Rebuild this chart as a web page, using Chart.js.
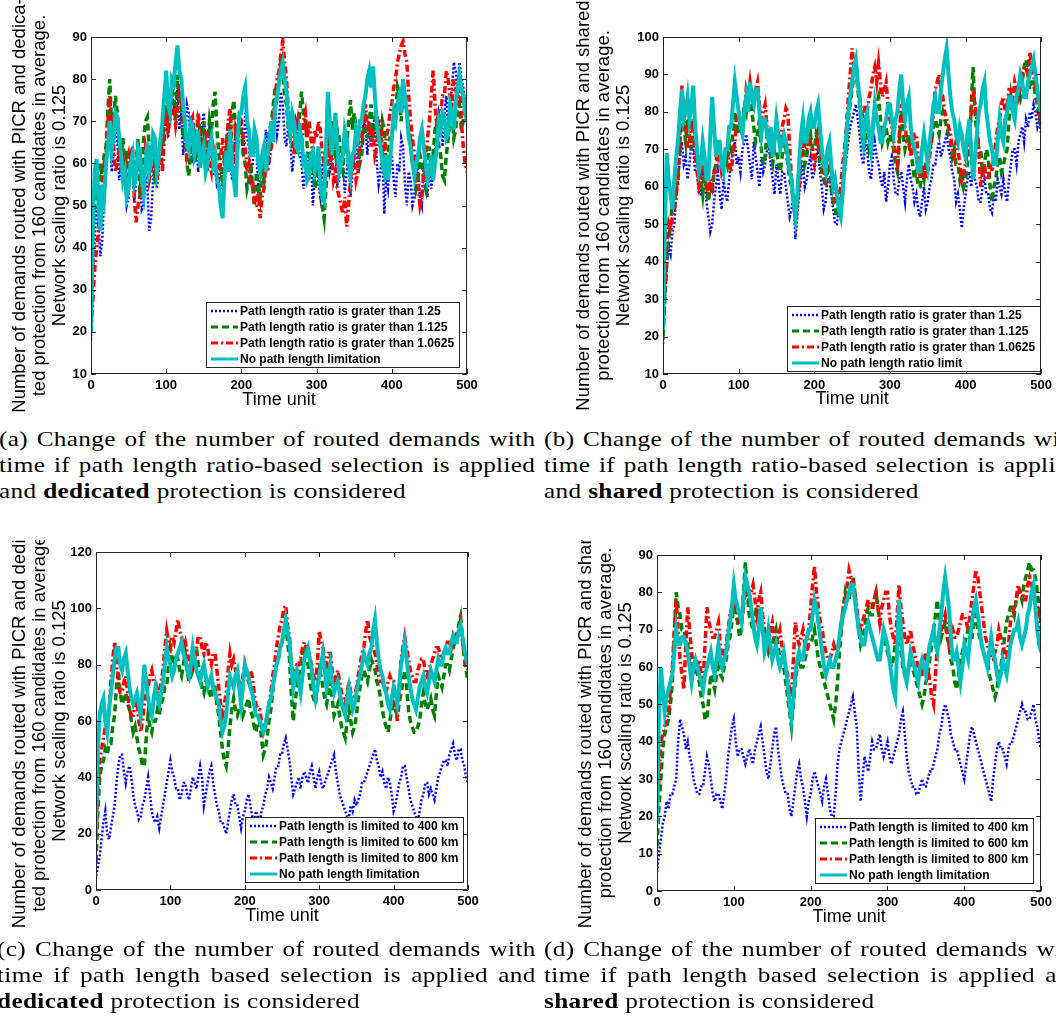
<!DOCTYPE html>
<html>
<head>
<meta charset="utf-8">
<script src="https://cdn.jsdelivr.net/npm/chart.js@4.4.1/dist/chart.umd.min.js"></script>
<style>
  html, body { margin: 0; padding: 0; background: #fff; }
  body { width: 1056px; height: 1021px; overflow: hidden; position: relative; }
  canvas { position: absolute; }
  .cap { position: absolute; font-family: "Liberation Serif", serif; font-size: 21px; letter-spacing: 0.3px;
         line-height: 26px; color: #000; transform: scaleX(1.2); transform-origin: 0 0; }
  .ln { height: 26px; white-space: nowrap; }
  .j { display: flex; justify-content: space-between; }
</style>
</head>
<body>
<canvas id="chartA" width="540" height="420" style="left:0;top:0"></canvas>
<canvas id="chartB" width="516" height="420" style="left:540px;top:0"></canvas>
<canvas id="chartC" width="540" height="400" style="left:0;top:540px"></canvas>
<canvas id="chartD" width="516" height="400" style="left:540px;top:540px"></canvas>

<div class="cap" style="left:-1px;top:426px;width:447px">
  <div class="ln j">(a) Change of the number of routed demands with</div>
  <div class="ln j">time if path length ratio-based selection is applied</div>
  <div class="ln">and <b>dedicated</b> protection is considered</div>
</div>
<div class="cap" style="left:544px;top:426px;width:447px">
  <div class="ln j">(b) Change of the number of routed demands with</div>
  <div class="ln j">time if path length ratio-based selection is applied</div>
  <div class="ln">and <b>shared</b> protection is considered</div>
</div>
<div class="cap" style="left:-3px;top:936px;width:449px">
  <div class="ln j">(c) Change of the number of routed demands with</div>
  <div class="ln j">time if path length based selection is applied and</div>
  <div class="ln"><b>dedicated</b> protection is considered</div>
</div>
<div class="cap" style="left:544px;top:936px;width:449px">
  <div class="ln j">(d) Change of the number of routed demands with</div>
  <div class="ln j">time if path length based selection is applied and</div>
  <div class="ln"><b>shared</b> protection is considered</div>
</div>

<script>
// time axis, one sample every 2.5 time units (each row below = 50 time units)
var timeUnits = [];
for (var t = 0; t <= 500; t += 2.5) timeUnits.push(t);

var xTicks = [0, 100, 200, 300, 400, 500];
var yTicksA = [10, 20, 30, 40, 50, 60, 70, 80, 90];
var yTicksB = [10, 20, 30, 40, 50, 60, 70, 80, 90, 100];
var yTicksC = [0, 20, 40, 60, 80, 100, 120];
var yTicksD = [0, 10, 20, 30, 40, 50, 60, 70, 80, 90];

var ratioLabelsA = ['Path length ratio is grater than 1.25', 'Path length ratio is grater than 1.125',
                    'Path length ratio is grater than 1.0625', 'No path length limitation'];
var ratioLabelsB = ['Path length ratio is grater than 1.25', 'Path length ratio is grater than 1.125',
                    'Path length ratio is grater than 1.0625', 'No path length ratio limit'];
var lengthLabels = ['Path length is limited to 400 km', 'Path length is limited to 600 km',
                    'Path length is limited to 800 km', 'No path length limitation'];

// (a) ratio based, dedicated
var dedRatio125 = [
  18,34,42,50,45,38,42,52,58,64,68,58,62,70,66,56,60,63,57,50,
  52,62,60,51,56,63,58,49,50,57,54,44,47,56,62,54,58,64,68,72,
  72,66,70,77,74,70,78,68,72,62,66,74,72,63,60,68,66,58,62,69,
  72,64,58,68,66,57,62,55,56,60,54,62,60,68,64,56,60,67,64,72,
  68,62,72,66,64,57,60,66,63,54,56,62,60,68,64,60,68,72,74,67,
  70,77,74,66,64,70,66,58,62,70,68,62,60,54,58,63,56,62,50,57,
  62,55,52,60,56,64,66,58,60,67,64,55,56,62,60,53,58,63,52,57,
  62,66,58,62,64,70,68,62,70,64,66,72,60,55,58,64,48,57,54,60,
  62,56,52,60,58,66,64,55,50,58,56,50,52,60,58,52,50,60,56,52,
  60,54,58,64,66,72,70,64,72,76,68,74,78,84,82,76,84,80,78,74, 72];
var dedRatio1125 = [
  20,44,50,55,52,60,56,62,64,73,80,68,70,76,72,64,62,66,58,63,
  56,60,64,56,60,66,52,58,66,70,71,63,58,64,55,60,60,66,62,70,
  74,68,72,78,76,70,81,75,74,66,68,60,57,63,66,60,62,70,68,64,
  70,62,64,70,67,74,77,68,62,58,56,61,64,70,66,72,75,66,64,70,
  68,62,60,54,56,60,54,50,58,55,52,58,56,62,64,68,70,74,78,76,
  80,84,82,76,74,68,66,72,70,62,65,72,77,72,70,64,62,58,60,54,
  56,60,58,50,47,54,60,66,70,64,62,68,66,60,58,66,64,70,75,68,
  72,68,66,60,62,68,72,66,70,74,66,70,72,66,64,70,68,60,62,66,
  66,70,72,78,76,70,80,74,72,68,66,60,60,54,56,62,60,56,54,60,
  64,58,62,68,70,64,62,57,56,62,66,70,72,66,68,74,74,68,70,74, 76];
var dedRatio10625 = [
  20,28,35,40,44,50,54,60,62,70,76,68,64,58,60,64,58,62,57,60,
  62,58,64,52,46,50,52,56,58,64,62,56,58,64,62,56,60,64,58,66,
  72,68,70,74,73,69,72,77,76,70,68,62,64,70,71,65,66,72,68,64,
  63,68,66,60,58,64,62,55,56,62,66,60,64,70,73,64,60,68,66,72,
  70,66,64,58,60,55,56,50,50,53,47,52,54,60,58,62,64,71,76,80,
  82,86,89,84,80,72,68,64,62,67,70,66,64,70,72,66,70,66,62,68,
  66,70,68,62,60,64,66,60,62,56,58,54,52,50,48,52,45,50,56,60,
  62,56,58,64,66,70,74,68,70,64,68,62,64,70,70,64,62,66,68,72,
  74,78,80,84,86,88,89,86,84,76,70,66,62,58,55,50,52,58,62,66,
  70,76,82,74,68,70,72,76,76,82,80,76,74,80,78,74,80,70,64,60, 58];
var dedRatioFree = [
  20,46,58,61,50,44,55,52,60,64,70,63,66,72,71,66,62,56,58,52,
  54,60,62,55,57,64,63,56,53,60,65,58,60,67,66,58,61,66,70,76,
  82,74,72,80,79,84,88,82,80,74,70,64,63,70,69,62,64,68,59,62,
  64,58,60,64,66,60,62,56,55,50,47,56,63,58,68,60,56,52,66,72,
  72,76,78,70,68,62,62,68,66,60,58,62,64,58,62,66,70,65,74,76,
  79,82,84,80,77,70,67,72,70,64,63,68,66,60,61,56,57,62,63,58,
  60,64,55,52,51,64,77,70,62,66,72,64,58,60,62,68,66,60,57,62,
  63,68,66,70,70,74,76,80,82,78,83,76,70,66,64,60,58,62,56,60,
  66,72,70,74,76,72,80,76,72,66,64,60,57,60,62,66,68,64,60,56,
  58,62,56,60,64,70,68,72,71,66,67,74,72,68,74,78,81,78,76,72, 70];

// (b) ratio based, shared
var shRatio125 = [
  18,30,38,44,42,48,50,58,62,68,72,66,68,62,66,72,70,64,64,58,
  58,64,62,56,52,48,50,56,60,64,58,54,62,58,56,62,66,70,72,66,
  68,64,70,72,74,70,66,62,72,68,64,60,68,64,66,70,70,66,62,58,
  66,62,58,64,64,60,56,52,54,58,46,52,58,62,66,60,62,66,68,62,
  64,68,70,64,60,54,56,62,62,58,54,50,50,54,56,60,64,68,72,76,
  78,80,82,78,74,68,66,72,70,64,62,68,72,68,66,62,60,64,56,60,
  66,68,62,58,58,62,64,60,56,62,66,62,60,56,58,54,52,56,60,54,
  56,60,62,66,66,70,72,68,70,72,74,70,68,64,62,56,58,54,49,54,
  58,62,64,60,66,62,60,56,56,60,62,58,58,54,53,58,56,62,60,58,
  62,58,56,62,66,70,70,66,72,74,76,72,78,76,80,78,82,80,76,78, 74];
var shRatio1125 = [
  20,30,40,46,50,56,54,60,64,72,80,76,72,78,74,70,78,74,68,64,
  62,58,64,60,56,60,58,64,66,72,70,66,64,68,66,72,70,74,80,76,
  74,78,76,82,80,86,84,80,76,72,74,78,70,66,68,74,72,68,66,70,
  70,66,64,68,72,70,66,62,60,56,52,56,62,68,72,66,68,72,74,70,
  70,74,72,66,64,62,60,64,66,60,56,54,52,56,54,60,64,70,78,82,
  86,90,92,86,82,76,70,76,74,70,72,76,80,82,84,78,72,74,76,72,
  74,72,70,66,64,72,80,74,70,72,74,70,66,62,64,60,60,64,62,66,
  66,70,72,76,78,76,74,78,80,78,76,74,72,68,70,66,66,62,64,60,
  62,66,70,82,92,80,74,70,70,64,66,70,68,60,56,60,62,66,68,64,
  66,68,70,78,84,80,80,84,86,84,88,92,94,90,86,88,88,84,82,78, 76];
var shRatio10625 = [
  22,34,45,50,48,52,54,58,62,76,87,80,76,70,72,78,74,68,64,60,
  62,66,64,60,58,62,60,64,64,68,68,64,66,70,70,66,64,68,72,78,
  80,76,74,80,86,84,88,84,82,86,88,82,78,80,82,76,74,70,70,74,
  76,74,72,76,78,81,80,70,62,56,51,56,60,68,74,70,70,74,72,68,
  66,70,74,70,68,64,62,66,70,64,58,56,56,58,60,66,70,76,84,90,
  97,92,94,88,84,80,78,82,80,84,86,90,92,88,93,88,84,86,88,82,
  78,76,72,68,66,74,82,78,76,72,72,68,70,74,74,68,62,64,66,62,
  64,68,72,80,86,88,90,86,84,80,78,76,74,70,68,72,70,66,62,64,
  66,70,72,80,86,82,78,70,60,64,66,62,62,66,64,68,72,76,78,82,
  84,80,82,86,86,84,88,86,84,88,90,92,92,90,96,92,90,86,84,80, 76];
var shRatioFree = [
  22,50,69,62,58,54,62,68,73,80,86,78,80,84,78,82,87,76,70,64,
  66,72,68,62,62,74,84,76,68,72,72,66,64,70,70,76,76,82,88,84,
  80,76,74,80,84,80,88,84,82,86,86,80,74,78,78,74,72,76,68,72,
  78,74,70,72,74,72,68,64,62,56,52,58,66,74,78,72,72,78,80,76,
  76,80,82,76,70,66,64,70,72,66,60,62,58,54,52,58,66,74,80,84,
  88,92,94,88,84,76,72,78,80,74,70,76,82,78,76,72,72,76,78,82,
  82,78,74,78,80,86,90,82,78,82,84,76,72,70,68,64,64,70,74,70,
  66,72,76,82,84,80,80,86,90,94,97,90,84,80,78,74,72,76,74,70,
  68,74,78,70,62,68,74,80,82,86,88,80,76,72,70,66,66,72,78,74,
  72,78,80,84,84,80,78,84,86,90,88,84,84,88,90,92,94,90,86,82, 80];

// (c) length based, dedicated
var dedLen400 = [
  5,8,12,18,24,28,20,18,22,26,30,38,44,48,48,42,38,42,44,40,
  34,30,28,25,26,30,32,36,40,34,28,25,24,26,22,26,30,34,38,42,
  46,42,40,36,36,32,34,38,38,34,32,36,40,38,36,40,44,40,30,34,
  38,42,44,38,34,30,28,24,24,22,20,24,28,32,34,30,30,26,22,26,
  28,32,34,30,26,24,28,26,24,28,30,34,36,40,38,36,40,44,44,48,
  48,52,54,50,46,40,34,36,38,40,36,40,42,40,38,42,44,40,36,40,
  42,38,36,38,40,42,44,46,48,42,38,34,32,30,28,26,26,30,28,32,
  30,32,34,38,38,40,42,44,46,48,50,46,44,40,42,38,36,40,38,34,
  28,30,34,38,40,44,44,40,36,32,30,28,26,24,28,32,34,38,38,34,
  36,34,32,36,40,42,44,46,46,44,48,50,52,48,46,50,50,46,44,40, 38];
var dedLen600 = [
  10,28,40,44,46,50,48,52,52,58,62,72,78,70,66,68,70,66,64,60,
  56,58,54,50,48,44,44,54,62,58,56,60,60,64,62,66,68,72,72,80,
  86,82,80,84,82,78,76,80,84,78,74,76,78,84,86,80,76,72,70,74,
  74,70,68,72,72,66,62,56,50,46,44,50,58,64,68,64,62,64,66,62,
  64,66,68,64,62,58,56,60,60,54,48,50,54,60,64,70,76,80,82,86,
  88,92,94,88,82,70,60,66,72,76,80,84,86,82,80,74,70,68,66,72,
  78,76,72,68,66,70,74,68,62,64,66,62,58,56,54,60,64,60,56,58,
  62,68,72,76,78,76,74,78,82,80,78,74,72,68,64,60,58,56,60,64,
  66,64,62,66,70,74,78,72,64,60,58,56,56,58,60,66,70,66,64,66,
  68,64,62,70,76,74,72,76,80,80,78,82,86,88,90,94,97,90,82,78, 74];
var dedLen800 = [
  18,34,46,50,54,58,56,64,74,82,88,80,74,70,70,74,76,70,64,62,
  62,66,68,60,56,60,66,70,72,76,78,74,74,70,70,74,78,86,92,88,
  86,90,88,92,96,92,90,86,88,84,82,78,78,82,86,90,90,86,84,88,
  86,82,80,84,84,78,72,66,62,66,70,78,84,80,82,78,78,74,72,76,
  80,76,74,78,76,70,66,64,64,60,56,58,62,66,70,76,80,86,90,94,
  96,100,101,94,90,80,74,78,80,80,82,86,88,86,84,82,80,76,74,80,
  92,88,86,82,80,84,84,78,74,76,78,74,70,68,66,70,74,70,66,68,
  72,76,80,84,86,92,96,90,88,86,84,80,76,74,74,72,70,74,76,74,
  74,66,60,72,82,86,90,86,82,78,76,74,74,78,80,82,82,78,76,78,
  80,82,84,86,86,84,82,84,86,88,88,86,90,88,92,90,94,88,84,80, 78];
var dedLenFree = [
  20,50,62,66,68,60,56,64,70,76,82,86,86,80,78,82,84,78,72,68,
  66,68,70,66,62,70,80,74,68,64,62,68,72,68,66,70,74,80,86,82,
  80,76,78,82,84,86,88,84,82,78,76,80,86,82,78,76,74,78,80,76,
  72,74,76,72,70,68,66,60,56,58,62,70,76,74,72,76,78,72,66,72,
  80,78,76,72,70,66,62,62,60,58,56,58,62,66,68,72,76,80,82,86,
  88,92,96,92,88,80,72,76,78,74,70,76,82,84,86,82,78,72,68,72,
  76,80,84,78,72,76,80,74,70,72,74,70,66,64,62,68,72,68,64,66,
  70,74,76,80,84,82,80,84,86,92,96,88,82,78,76,72,70,66,64,68,
  72,70,66,72,80,84,88,82,76,72,68,66,64,68,72,74,76,72,70,74,
  78,76,74,78,82,80,80,84,86,84,84,88,90,88,88,92,94,90,86,82, 80];

// (d) length based, shared
var shLen400 = [
  5,10,14,18,20,24,22,26,26,28,30,40,46,44,42,38,40,36,34,30,
  28,26,26,28,28,32,36,34,30,26,24,26,26,24,22,26,30,36,40,44,
  46,40,36,38,38,36,34,36,38,36,34,38,40,42,44,40,36,32,30,34,
  38,42,44,38,34,30,28,26,26,22,20,24,28,32,34,30,28,24,20,24,
  26,30,32,30,28,26,24,28,30,26,22,20,20,26,34,38,40,42,44,46,
  48,50,52,48,44,32,24,30,36,34,32,36,40,38,38,40,42,38,36,38,
  40,36,34,36,38,40,42,46,48,42,36,32,30,28,28,26,26,28,30,28,
  28,30,32,32,34,36,38,42,44,48,50,48,46,42,40,38,38,36,34,32,
  30,34,38,42,44,42,40,38,36,34,32,30,28,26,24,30,34,38,40,38,
  38,36,34,38,40,40,42,44,46,48,50,48,48,46,46,48,50,46,44,40, 38];
var shLen600 = [
  12,22,30,38,42,44,46,50,56,68,80,76,74,70,70,68,66,62,60,62,
  62,58,56,52,50,46,46,52,58,56,54,58,60,58,57,60,62,66,68,72,
  76,74,72,68,70,80,88,80,74,72,70,74,76,74,72,70,68,66,64,66,
  66,68,70,66,62,62,60,56,52,48,44,50,56,60,62,60,60,62,64,66,
  66,68,70,66,62,60,58,56,54,52,50,48,46,50,56,64,70,76,80,78,
  78,82,84,80,74,70,66,68,70,74,76,74,74,78,80,76,72,70,70,66,
  64,62,60,62,66,68,70,64,60,58,56,60,62,60,58,56,54,52,50,52,
  56,58,62,66,70,74,78,72,68,70,72,68,66,62,60,56,54,58,62,64,
  66,68,70,68,68,72,74,70,68,66,64,62,62,58,56,54,52,54,58,60,
  64,68,72,74,76,76,74,78,80,80,78,82,84,86,88,86,86,84,80,76, 72];
var shLen800 = [
  20,30,40,42,44,46,48,54,60,70,78,70,62,58,54,66,76,70,64,60,
  58,60,62,58,56,66,76,72,70,68,68,70,72,66,62,64,66,70,74,76,
  78,76,74,72,72,76,80,78,78,80,82,78,74,78,80,74,70,68,66,70,
  72,68,66,68,70,66,62,60,58,54,52,62,72,68,66,68,70,66,64,70,
  76,82,87,80,76,72,70,66,64,62,62,64,66,64,64,68,72,76,78,82,
  86,84,84,80,76,72,70,72,74,76,78,76,76,78,80,76,72,76,78,80,
  80,74,70,68,66,74,82,76,72,68,66,68,70,66,64,62,60,58,58,62,
  64,60,56,52,50,58,66,68,70,72,74,70,66,68,70,68,68,70,72,74,
  74,72,70,74,78,82,86,84,80,76,72,68,66,64,62,62,64,66,70,68,
  66,64,62,66,72,74,76,78,82,80,80,78,78,82,84,82,80,78,76,72, 70];
var shLenFree = [
  18,46,60,54,48,52,54,56,58,64,70,66,66,68,68,66,64,60,56,60,
  62,60,58,56,54,58,60,62,64,60,58,62,66,62,60,62,64,68,72,76,
  82,78,76,74,72,78,84,82,80,76,72,68,66,70,76,70,64,66,70,66,
  62,64,66,62,60,62,64,60,56,50,46,52,58,62,64,62,62,66,68,70,
  70,74,78,76,72,68,64,60,58,60,62,60,60,62,64,68,72,74,76,78,
  80,82,82,78,74,70,68,66,66,70,72,70,68,66,64,62,62,66,70,68,
  66,62,58,54,52,64,78,70,62,58,56,60,64,62,60,58,56,60,62,60,
  58,62,66,68,70,66,64,70,74,80,84,80,76,68,62,62,64,60,56,60,
  66,64,62,68,72,76,78,74,70,66,64,62,60,64,68,64,62,58,56,58,
  62,60,58,62,66,68,70,70,72,68,66,68,70,74,76,80,82,76,70,66, 64];

var FONT = '"Liberation Sans", Arial, sans-serif';

// series styles: blue dotted, green dashed, red dash-dot, cyan solid
var styles = [
  {color: '#0000ff', width: 2.5, dash: [2, 2], order: 4},
  {color: '#008000', width: 3.5, dash: [7, 4], order: 3},
  {color: '#ff0000', width: 3.5, dash: [7, 3, 2, 3], order: 2},
  {color: '#00bfbf', width: 4, dash: [], order: 1}
];

function pts(values) {
  var out = [];
  values.forEach(function(v, i) { if (i < timeUnits.length) out.push({x: timeUnits[i], y: v}); });
  return out;
}

// draws the box with inward ticks and the legend inside the plot
var frameLegend = {
  id: 'frameLegend',
  afterDatasetsDraw: function(chart, args, opts) {
    var ctx = chart.ctx, a = chart.chartArea;
    var xs = chart.scales.x, ys = chart.scales.y;
    ctx.save();
    ctx.strokeStyle = '#262626';
    ctx.lineWidth = 1;
    ctx.setLineDash([]);
    ctx.strokeRect(Math.round(a.left) + 0.5, Math.round(a.top) + 0.5,
                   Math.round(a.right - a.left) - 1, Math.round(a.bottom - a.top) - 1);
    ctx.beginPath();
    xs.ticks.forEach(function(tk) {
      var px = Math.round(xs.getPixelForValue(tk.value)) + 0.5;
      ctx.moveTo(px, a.bottom); ctx.lineTo(px, a.bottom - 5);
      ctx.moveTo(px, a.top); ctx.lineTo(px, a.top + 5);
    });
    ys.ticks.forEach(function(tk) {
      var py = Math.round(ys.getPixelForValue(tk.value)) + 0.5;
      ctx.moveTo(a.left, py); ctx.lineTo(a.left + 5, py);
      ctx.moveTo(a.right, py); ctx.lineTo(a.right - 5, py);
    });
    ctx.stroke();

    // legend
    ctx.font = 'bold 12px ' + FONT;
    var tw = 0;
    opts.labels.forEach(function(l) { tw = Math.max(tw, ctx.measureText(l).width); });
    var bw = 5 + 27 + 2 + tw + 5, bh = 65;
    var x1 = Math.round(a.right - opts.right - bw), y1 = Math.round(a.bottom - opts.bottom - bh);
    ctx.fillStyle = '#fff';
    ctx.fillRect(x1, y1, bw, bh);
    ctx.strokeStyle = '#262626';
    ctx.strokeRect(x1 + 0.5, y1 + 0.5, Math.round(bw), bh);
    opts.labels.forEach(function(l, i) {
      var y = y1 + 9 + 16 * i, s = styles[i];
      ctx.beginPath();
      ctx.strokeStyle = s.color;
      ctx.lineWidth = Math.min(s.width, 3);
      ctx.setLineDash(s.dash);
      ctx.moveTo(x1 + 5, y); ctx.lineTo(x1 + 32, y);
      ctx.stroke();
      ctx.setLineDash([]);
      ctx.fillStyle = '#000';
      ctx.textBaseline = 'middle';
      ctx.textAlign = 'left';
      ctx.fillText(l, x1 + 34, y + 1);
    });
    ctx.restore();
  }
};

function makeChart(id, p) {
  var datasets = p.series.map(function(vals, i) {
    var s = styles[i];
    return {
      label: p.labels[i], data: pts(vals), borderColor: s.color, borderWidth: s.width,
      borderDash: s.dash, pointRadius: 0, fill: false, tension: 0, order: s.order
    };
  });
  new Chart(document.getElementById(id), {
    type: 'line',
    data: {datasets: datasets},
    plugins: [frameLegend],
    options: {
      responsive: false,
      animation: false,
      devicePixelRatio: 1,
      layout: {padding: {top: p.padTop, right: p.padRight, left: 0, bottom: 0}},
      plugins: {
        legend: {display: false},
        tooltip: {enabled: false},
        frameLegend: {labels: p.labels, right: p.legRight, bottom: p.legBottom}
      },
      scales: {
        x: {
          type: 'linear', min: 0, max: 500,
          afterFit: function(sc) { sc.height = p.xHeight; },
          afterBuildTicks: function(sc) { sc.ticks = xTicks.map(function(v) { return {value: v}; }); },
          grid: {display: false, drawTicks: false},
          border: {display: false},
          ticks: {color: '#000', padding: 4, maxRotation: 0, font: {family: FONT, size: 13, weight: 'bold'}},
          title: {display: true, text: 'Time unit', color: '#000',
                  padding: {top: 0, bottom: p.xTitlePad}, font: {family: FONT, size: 18, lineHeight: 1.111}}
        },
        y: {
          type: 'linear', min: p.yTicks[0], max: p.yTicks[p.yTicks.length - 1],
          afterFit: function(sc) { sc.width = p.yWidth; },
          afterBuildTicks: function(sc) { sc.ticks = p.yTicks.map(function(v) { return {value: v}; }); },
          grid: {display: false, drawTicks: false},
          border: {display: false},
          ticks: {color: '#000', padding: 4, font: {family: FONT, size: 13, weight: 'bold'}},
          title: {display: true, text: p.yTitle, color: '#000',
                  padding: {top: p.yTitlePad, bottom: 0}, font: {family: FONT, size: 18.5, lineHeight: 1.081}}
        }
      }
    }
  });
}

var titleDed = ['Number of demands routed with PICR and dedica-',
                'ted protection from 160 candidates in average.',
                'Network scaling ratio is 0.125'];
var titleSh = ['Number of demands routed with PICR and shared',
               'protection from 160 candidates in average.',
               'Network scaling ratio is 0.125'];

makeChart('chartA', {series: [dedRatio125, dedRatio1125, dedRatio10625, dedRatioFree], labels: ratioLabelsA,
  yTicks: yTicksA, yTitle: titleDed, yWidth: 91, xHeight: 46, padTop: 37, padRight: 73,
  yTitlePad: 10, xTitlePad: 10, legRight: 8, legBottom: 7});
makeChart('chartB', {series: [shRatio125, shRatio1125, shRatio10625, shRatioFree], labels: ratioLabelsB,
  yTicks: yTicksB, yTitle: titleSh, yWidth: 123, xHeight: 46, padTop: 37, padRight: 13,
  yTitlePad: 34, xTitlePad: 11, legRight: 1, legBottom: 3});
makeChart('chartC', {series: [dedLen400, dedLen600, dedLen800, dedLenFree], labels: lengthLabels,
  yTicks: yTicksC, yTitle: titleDed, yWidth: 96, xHeight: 50, padTop: 12, padRight: 72,
  yTitlePad: 10, xTitlePad: 14, legRight: 5, legBottom: 8});
makeChart('chartD', {series: [shLen400, shLen600, shLen800, shLenFree], labels: lengthLabels,
  yTicks: yTicksD, yTitle: titleSh, yWidth: 117, xHeight: 49, padTop: 15, padRight: 11,
  yTitlePad: 36, xTitlePad: 13, legRight: 8, legBottom: 8});

// justified caption lines: spread the words over the full width
document.querySelectorAll('.ln.j').forEach(function(el) {
  var words = el.textContent.trim().split(/\s+/);
  el.innerHTML = words.map(function(w) { return '<span>' + w + '</span>'; }).join('');
});
</script>
</body>
</html>
